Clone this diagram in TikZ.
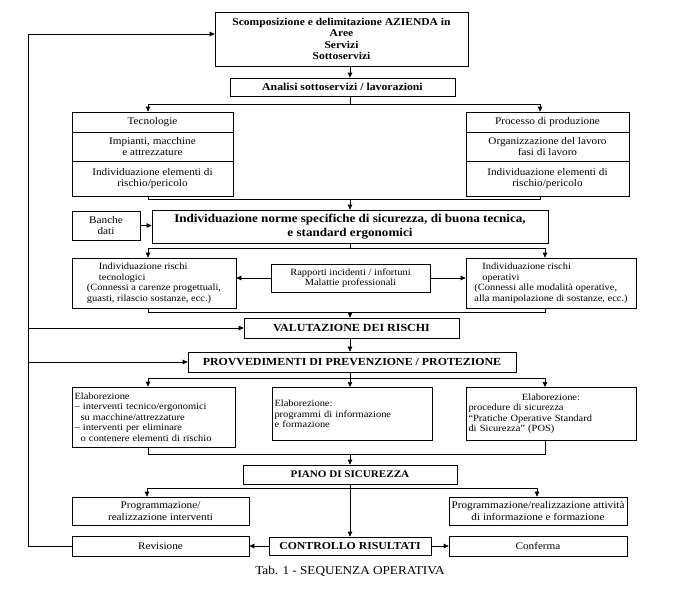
\documentclass[tikz,border=0pt]{standalone}
\usepackage{fontspec}
\setmainfont[FakeStretch=1.1]{Liberation Serif}
\usetikzlibrary{arrows.meta}
\begin{document}
\begin{tikzpicture}[x=1pt,y=-1pt,
  box/.style={draw, line width=0.7pt, inner sep=1pt, align=center, font=\fontsize{10.2}{11.5}\selectfont},
  bbox/.style={box, font=\fontsize{10.5}{11.5}\selectfont\bfseries},
  sbox/.style={box, font=\fontsize{9.5}{10.5}\selectfont},
  arr/.style={-{Triangle[length=5pt,width=4.5pt]}, line width=0.7pt},
  ln/.style={line width=0.7pt}]
\useasboundingbox (0,0) rectangle (680,597);
% spines
\coordinate (L) at (28,0);
\coordinate (C) at (350,0);
\coordinate (A) at (148,0);
\coordinate (B) at (545,0);
\coordinate (Bp) at (540,0);
\coordinate (Ab) at (147,0);
\coordinate (Bb) at (537,0);
% levels
\coordinate (t1) at (0,34);
\coordinate (h1) at (0,104);
\coordinate (h2) at (0,199);
\coordinate (h3) at (0,248);
\coordinate (h4) at (0,312);
\coordinate (h5) at (0,378);
\coordinate (h6) at (0,454);
\coordinate (h7) at (0,488);
% nodes
\node[bbox, minimum width=253pt, minimum height=54pt] (top) at (341.5,39)
  {Scomposizione e delimitazione AZIENDA in\\Aree\\Servizi\\Sottoservizi};
\node[bbox, font=\fontsize{10.7}{12}\selectfont\bfseries, minimum width=225pt, minimum height=18pt] (an) at (342.5,87)
  {Analisi sottoservizi / lavorazioni};
\node[box, minimum width=161pt, minimum height=20pt] (tec1) at (152.5,122) {Tecnologie};
\node[box, minimum width=161pt, minimum height=29pt] (tec2) at (152.5,146.5) {Impianti, macchine\\e attrezzature};
\node[box, minimum width=161pt, minimum height=35pt] (tec3) at (152.5,178.5) {Individuazione elementi di\\rischio/pericolo};
\node[box, minimum width=163pt, minimum height=20pt] (pro1) at (547.5,122) {Processo di produzione};
\node[box, minimum width=163pt, minimum height=29pt] (pro2) at (547.5,146.5) {Organizzazione del lavoro\\fasi di lavoro};
\node[box, minimum width=163pt, minimum height=35pt] (pro3) at (547.5,178.5) {Individuazione elementi di\\rischio/pericolo};
\node[box, minimum width=68pt, minimum height=29pt] (ban) at (106,225.5) {Banche\\dati};
\node[box, font=\fontsize{11.9}{13.5}\selectfont\bfseries, minimum width=396pt, minimum height=33pt] (nor) at (350,226.5)
  {Individuazione norme specifiche di sicurezza, di buona tecnica,\\e standard ergonomici};
\node[sbox, minimum width=164pt, minimum height=50pt, align=left] (trk) at (154,283)
  {\hspace*{12pt}Individuazione rischi\\\hspace*{12pt}tecnologici\\(Connessi a carenze progettuali,\\guasti, rilascio sostanze, ecc.)};
\node[sbox, minimum width=159pt, minimum height=28pt] (rap) at (350.5,278)
  {Rapporti incidenti / infortuni\\Malattie professionali};
\node[sbox, minimum width=170pt, minimum height=50pt, align=left] (ork) at (551,283)
  {\hspace*{8pt}Individuazione rischi\\\hspace*{8pt}operativi\\(Connessi alle modalità operative,\\alla manipolazione di sostanze, ecc.)};
\node[bbox, font=\fontsize{10.9}{12}\selectfont\bfseries, minimum width=215pt, minimum height=20pt] (val) at (351.5,328) {VALUTAZIONE DEI RISCHI};
\node[box, font=\fontsize{10.8}{12}\selectfont\bfseries, minimum width=328pt, minimum height=20pt] (prv) at (352,362)
  {PROVVEDIMENTI DI PREVENZIONE / PROTEZIONE};
\node[sbox, minimum width=163pt, minimum height=60pt, align=left, text width=158pt] (el1) at (153.5,417)
  {Elaborezione\\– interventi tecnico/ergonomici\\\hspace*{6pt}su macchine/attrezzature\\– interventi per eliminare\\\hspace*{6pt}o contenere elementi di rischio};
\node[sbox, minimum width=160pt, minimum height=53pt, align=left, text width=155pt, anchor=north] (el2) at (352,387)
  {Elaborezione:\\programmi di informazione\\e formazione};
\node[sbox, minimum width=170pt, minimum height=53pt, align=left, text width=165pt, anchor=north] (el3) at (551,387)
  {\makebox[165pt][c]{Elaborezione:}\\procedure di sicurezza\\“Pratiche Operative Standard\\di Sicurezza” (POS)};
\node[bbox, font=\fontsize{10.1}{12}\selectfont\bfseries, minimum width=214pt, minimum height=19pt] (pia) at (350,474.5) {PIANO DI SICUREZZA};
\node[box, minimum width=177pt, minimum height=28pt] (pg1) at (160.5,511) {Programmazione/\\realizzazione interventi};
\node[box, minimum width=178pt, minimum height=28pt] (pg2) at (538,511) {Programmazione/realizzazione attività\\di informazione e formazione};
\node[box, minimum width=177pt, minimum height=20pt] (rev) at (160.5,546) {Revisione};
\node[bbox, font=\fontsize{10.7}{12}\selectfont\bfseries, minimum width=162pt, minimum height=18pt] (con) at (350,546) {CONTROLLO RISULTATI};
\node[box, minimum width=178pt, minimum height=20pt] (cnf) at (538,546) {Conferma};
\node[font=\fontsize{12}{14}\selectfont] (cap) at (350,571) {Tab. 1 - SEQUENZA OPERATIVA};
% connectors
\draw[ln] (rev.west) -| (L |- t1);
\draw[arr] (L |- t1) -- (top.west |- t1);
\draw[arr] (L |- val.west) -- (val.west);
\draw[arr] (L |- prv.west) -- (prv.west);
\draw[arr] (top.south -| C) -- (an.north -| C);
\draw[ln] (an.south -| C) -- (C |- h1);
\draw[arr] (C |- h1) -| (tec1.north -| A);
\draw[arr] (C |- h1) -| (pro1.north -| Bp);
\draw[ln] (tec3.south -| A) |- (C |- h2);
\draw[ln] (pro3.south -| Bp) |- (C |- h2);
\draw[arr] (C |- h2) -- (nor.north -| C);
\draw[arr] (ban.east) -- (nor.west |- ban.east);
\draw[ln] (nor.south -| C) -- (C |- h3);
\draw[arr] (C |- h3) -| (trk.north -| A);
\draw[arr] (C |- h3) -| (ork.north -| B);
\draw[arr] (rap.west) -- (trk.east |- rap.west);
\draw[arr] (rap.east) -- (ork.west |- rap.east);
\draw[ln] (trk.south -| A) |- (C |- h4);
\draw[ln] (ork.south -| B) |- (C |- h4);
\draw[arr] (C |- h4) -- (val.north -| C);
\draw[arr] (val.south -| C) -- (prv.north -| C);
\draw[ln] (prv.south -| C) -- (C |- h5);
\draw[arr] (C |- h5) -| (el1.north -| A);
\draw[arr] (C |- h5) -| (el3.north -| B);
\draw[arr] (C |- h5) -- (el2.north -| C);
\draw[ln] (el1.south -| A) |- (C |- h6);
\draw[ln] (el3.south -| B) |- (C |- h6);
\draw[arr] (C |- h6) -- (pia.north -| C);
\draw[arr] (pia.south -| C) -- (con.north -| C);
\draw[arr] (C |- h7) -| (pg1.north -| Ab);
\draw[arr] (C |- h7) -| (pg2.north -| Bb);
\draw[arr] (con.west) -- (rev.east);
\draw[arr] (con.east) -- (cnf.west);
\end{tikzpicture}
\end{document}
